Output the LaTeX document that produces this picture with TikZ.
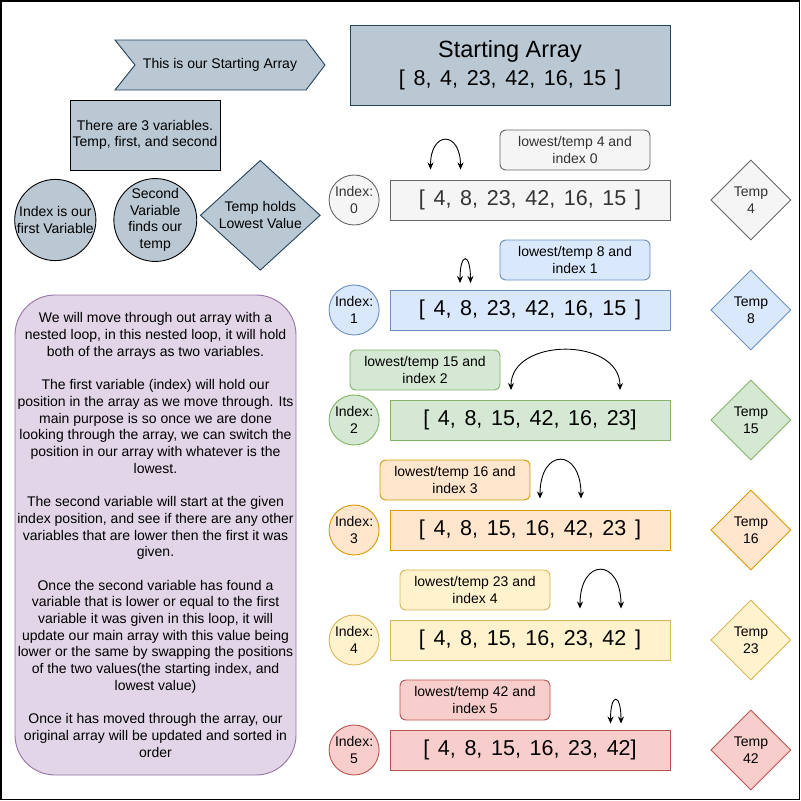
\documentclass[tikz,border=0pt]{standalone}
\usepackage{fontspec}
\setmainfont{Liberation Sans}
\newfontfamily\arrfont[WordSpace=1.45]{Liberation Sans}
\usepackage{xcolor}
\usepackage{tikz}
\usetikzlibrary{shapes.geometric, arrows.meta, positioning}
\definecolor{slatefill}{HTML}{BAC8D3}
\definecolor{slateline}{HTML}{23445D}
\definecolor{grayfill}{HTML}{F5F5F5}
\definecolor{grayline}{HTML}{666666}
\definecolor{graytext}{HTML}{333333}
\definecolor{bluefill}{HTML}{DAE8FC}
\definecolor{blueline}{HTML}{6C8EBF}
\definecolor{greenfill}{HTML}{D5E8D4}
\definecolor{greenline}{HTML}{82B366}
\definecolor{orangefill}{HTML}{FFE6CC}
\definecolor{orangeline}{HTML}{D79B00}
\definecolor{yellowfill}{HTML}{FFF2CC}
\definecolor{yellowline}{HTML}{D6B656}
\definecolor{redfill}{HTML}{F8CECC}
\definecolor{redline}{HTML}{B85450}
\definecolor{lilacfill}{HTML}{E1D5E7}
\definecolor{lilacline}{HTML}{9673A6}

\begin{document}
\begin{tikzpicture}[
    x=1pt, y=-1pt,
    line width=0.9pt,
    font=\fontsize{14}{16.7}\selectfont,
    base/.style={draw, inner sep=0pt, align=center},
    arrbox/.style={base, rectangle, minimum width=280pt, minimum height=40pt, font=\arrfont\fontsize{21.5}{25}\selectfont},
    idx/.style={base, circle, minimum size=50pt},
    tmp/.style={base, diamond, minimum width=80pt, minimum height=80pt},
    tag/.style={base, rectangle, rounded corners=6pt, minimum width=150pt, minimum height=40pt},
    swap/.style={{Stealth[length=7pt,width=6pt]}-{Stealth[length=7pt,width=6pt]}, line width=0.9pt},
    slate/.style={fill=slatefill, draw=slateline},
    rowgray/.style={fill=grayfill, draw=grayline, text=graytext},
    rowblue/.style={fill=bluefill, draw=blueline},
    rowgreen/.style={fill=greenfill, draw=greenline},
    roworange/.style={fill=orangefill, draw=orangeline},
    rowyellow/.style={fill=yellowfill, draw=yellowline},
    rowred/.style={fill=redfill, draw=redline}
]
\useasboundingbox (0,0) rectangle (801,801);
\draw[line width=1.5pt] (0.75,0.75) rectangle (799.5,799.5);

% Header
\draw[slate] (115,40) -- (306,40) -- (325,65) -- (306,90) -- (115,90) -- (135,65) -- cycle;
\node (chev) at (220,65) {This is our Starting Array};
\node[base, rectangle, slate, minimum width=320pt, minimum height=80pt, font=\fontsize{23.5}{28}\selectfont] (start) at (510,65)
    {Starting Array\\{\arrfont\fontsize{21.5}{25}\selectfont [ 8, 4, 23, 42, 16, 15 ]}};

% Variables
\node[base, rectangle, slate, draw=black, minimum width=150pt, minimum height=70pt] (vars) at (145,135) {There are 3 variables.\\Temp, first, and second};
\node[base, circle, slate, draw=black, minimum size=80pt] (first) at (55.3,220) {Index is our\\first Variable};
\node[base, circle, slate, draw=black, minimum size=80pt] (second) at (155.3,220) {Second\\Variable\\finds our\\temp};
\node[base, diamond, slate, shape aspect=1.09, minimum width=120pt, minimum height=110pt] (holds) at (260.3,215.3) {Temp holds\\Lowest Value};

% Explanation
\node[base, rectangle, rounded corners=40pt, fill=lilacfill, draw=lilacline, minimum width=281pt, minimum height=480pt] (story) at (155.5,535)
    {We will move through out array with a\\
     nested loop, in this nested loop, it will hold\\
     both of the arrays as two variables.\\[16.7pt]
     The first variable (index) will hold our\\
     position in the array as we move through. Its\\
     main purpose is so once we are done\\
     looking through the array, we can switch the\\
     position in our array with whatever is the\\
     lowest.\\[16.7pt]
     The second variable will start at the given\\
     index position, and see if there are any other\\
     variables that are lower then the first it was\\
     given.\\[16.7pt]
     Once the second variable has found a\\
     variable that is lower or equal to the first\\
     variable it was given in this loop, it will\\
     update our main array with this value being\\
     lower or the same by swapping the positions\\
     of the two values(the starting index, and\\
     lowest value)\\[16.7pt]
     Once it has moved through the array, our\\
     original array will be updated and sorted in\\
     order};

% Pass 0
\node[arrbox, rowgray] (arr0) at (530,200) {[ 4, 8, 23, 42, 16, 15 ]};
\node[idx, rowgray, left=10pt of arr0] (idx0) {Index:\\0};
\node[tmp, rowgray, right=40pt of arr0] (tmp0) {Temp\\4};
\node[tag, rowgray] (lbl0) at (575,150) {lowest/temp 4 and\\index 0};
\coordinate (a0) at (430.5,169.5);
\coordinate (b0) at (460.5,169.5);
\draw[swap] (a0) .. controls +(0,-39) and +(0,-39) .. (b0);

% Pass 1
\node[arrbox, rowblue] (arr1) at (530,310) {[ 4, 8, 23, 42, 16, 15 ]};
\node[idx, rowblue, left=10pt of arr1] (idx1) {Index:\\1};
\node[tmp, rowblue, right=40pt of arr1] (tmp1) {Temp\\8};
\node[tag, rowblue] (lbl1) at (575,260) {lowest/temp 8 and\\index 1};
\coordinate (a1) at (460,283);
\coordinate (b1) at (470.5,283);
\draw[swap] (a1) .. controls +(0,-31) and +(0,-31) .. (b1);

% Pass 2
\node[arrbox, rowgreen] (arr2) at (530,420) {[ 4, 8, 15, 42, 16, 23]};
\node[idx, rowgreen, left=10pt of arr2] (idx2) {Index:\\2};
\node[tmp, rowgreen, right=40pt of arr2] (tmp2) {Temp\\15};
\node[tag, rowgreen] (lbl2) at (425,370) {lowest/temp 15 and\\index 2};
\coordinate (a2) at (511,390);
\coordinate (b2) at (620,390);
\draw[swap] (a2) .. controls +(0,-53) and +(0,-53) .. (b2);

% Pass 3
\node[arrbox, roworange] (arr3) at (530,530) {[ 4, 8, 15, 16, 42, 23 ]};
\node[idx, roworange, left=10pt of arr3] (idx3) {Index:\\3};
\node[tmp, roworange, right=40pt of arr3] (tmp3) {Temp\\16};
\node[tag, roworange] (lbl3) at (455,480) {lowest/temp 16 and\\index 3};
\coordinate (a3) at (540,498.5);
\coordinate (b3) at (581,498.5);
\draw[swap] (a3) .. controls +(0,-51) and +(0,-51) .. (b3);

% Pass 4
\node[arrbox, rowyellow] (arr4) at (530,640) {[ 4, 8, 15, 16, 23, 42 ]};
\node[idx, rowyellow, left=10pt of arr4] (idx4) {Index:\\4};
\node[tmp, rowyellow, right=40pt of arr4] (tmp4) {Temp\\23};
\node[tag, rowyellow] (lbl4) at (475,590) {lowest/temp 23 and\\index 4};
\coordinate (a4) at (580,608.5);
\coordinate (b4) at (621,608.5);
\draw[swap] (a4) .. controls +(0,-51) and +(0,-51) .. (b4);

% Pass 5
\node[arrbox, rowred] (arr5) at (530,750) {[ 4, 8, 15, 16, 23, 42]};
\node[idx, rowred, left=10pt of arr5] (idx5) {Index:\\5};
\node[tmp, rowred, right=40pt of arr5] (tmp5) {Temp\\42};
\node[tag, rowred] (lbl5) at (475,700) {lowest/temp 42 and\\index 5};
\coordinate (a5) at (610.5,723.5);
\coordinate (b5) at (621,723.5);
\draw[swap] (a5) .. controls +(0,-31) and +(0,-31) .. (b5);

\end{tikzpicture}
\end{document}
